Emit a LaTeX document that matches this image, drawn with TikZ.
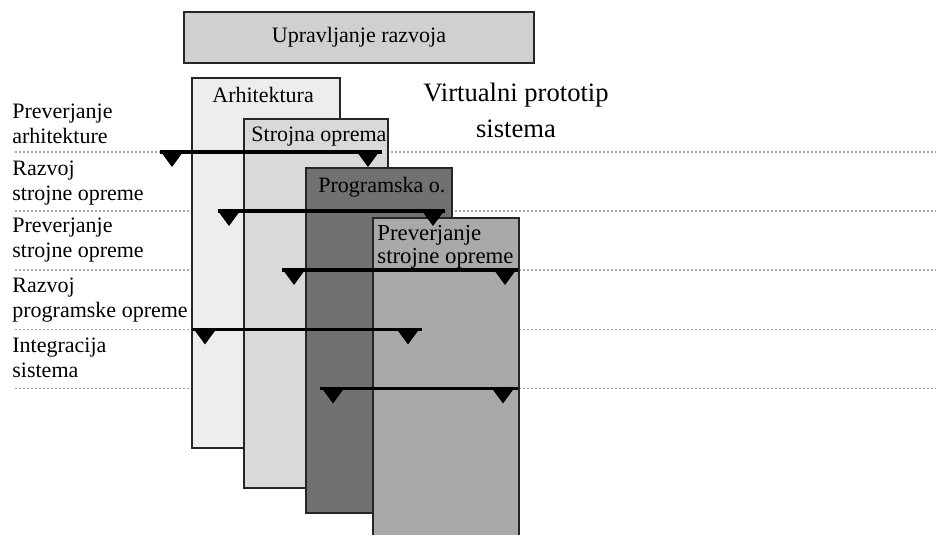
\documentclass[tikz,border=0pt]{standalone}
\usepackage{fontspec}
\setmainfont{Liberation Serif}
\definecolor{mgmtfill}{HTML}{D0D0D0}
\definecolor{arhfill}{HTML}{EDEDEF}
\definecolor{hwfill}{HTML}{D9D9DB}
\definecolor{swfill}{HTML}{717171}
\definecolor{hvfill}{HTML}{A9A9AB}

\begin{document}
\begin{tikzpicture}[
    x=0.5pt, y=-0.5pt,
    txt/.style={font=\fontsize{11}{12.5}\selectfont, inner sep=0pt, align=left},
    panel/.style={draw=black!85, line width=1pt},
    guide/.style={draw=gray!70, line width=0.6pt, dash pattern=on 1pt off 1pt},
    bar/.style={line width=1.9pt},
  ]
  \useasboundingbox (0,0) rectangle (936,535);

  % dotted phase lines
  \foreach \y [count=\i] in {152,211,270,329.5,388.5}
    \draw[guide] (15,\y) coordinate (g\i l) -- (936,\y) coordinate (g\i r);

  \node[txt, draw=black!85, line width=1pt, fill=mgmtfill, align=center,
        minimum width=175pt, minimum height=25.5pt] (mgmt) at (359,37.5) {Upravljanje razvoja};

  % base anchor = last line
  \node[font=\fontsize{13.3}{17.5}\selectfont, inner sep=0pt, align=center,
        anchor=base] (proto) at (516,137) {Virtualni prototip\\sistema};

  % phase labels
  \foreach \y/\t [count=\i] in {143/{Preverjanje\\arhitekture}, 200/{Razvoj\\strojne opreme},
      257/{Preverjanje\\strojne opreme}, 317/{Razvoj\\programske opreme},
      377/{Integracija\\sistema}}
    \node[txt, anchor=base west] (phase\i) at (12,\y) {\t};

  % stacked panels
  \draw[panel, fill=arhfill] (192,78) rectangle (340,447.5);
  \node[txt, anchor=base west] (arh) at (212,103) {Arhitektura};
  \draw[panel, fill=hwfill] (244,119) rectangle (388,488);
  \node[txt, anchor=base west] (hw) at (251,141) {Strojna oprema};
  \draw[panel, fill=swfill] (306,168) rectangle (452,513);
  \node[txt, anchor=base west] (sw) at (318,192) {Programska o.};
  \fill[hvfill] (373,218) rectangle (519,535);
  \draw[panel] (373,535) |- (519,218) -- (519,535);
  \node[txt, font=\fontsize{11.4}{11.5}\selectfont, anchor=base west] (hv) at (377,263) {Preverjanje\\strojne opreme};

  % bars with markers
  \foreach \y/\a/\b/\p/\q [count=\i] in {152/160/382/172/368, 211/218/445/229/433,
      270/282/518/294/505, 329.5/192/422/205/408, 388.5/320/518/333/503}
  {
    \coordinate (b\i a) at (\a,\y);
    \coordinate (b\i b) at (\b,\y);
    \draw[bar] (b\i a) -- (b\i b);
    \fill (\p-11,\y) -- (\p+11,\y) -- (\p,\y+15) -- cycle;
    \fill (\q-11,\y) -- (\q+11,\y) -- (\q,\y+15) -- cycle;
  }
\end{tikzpicture}
\end{document}
